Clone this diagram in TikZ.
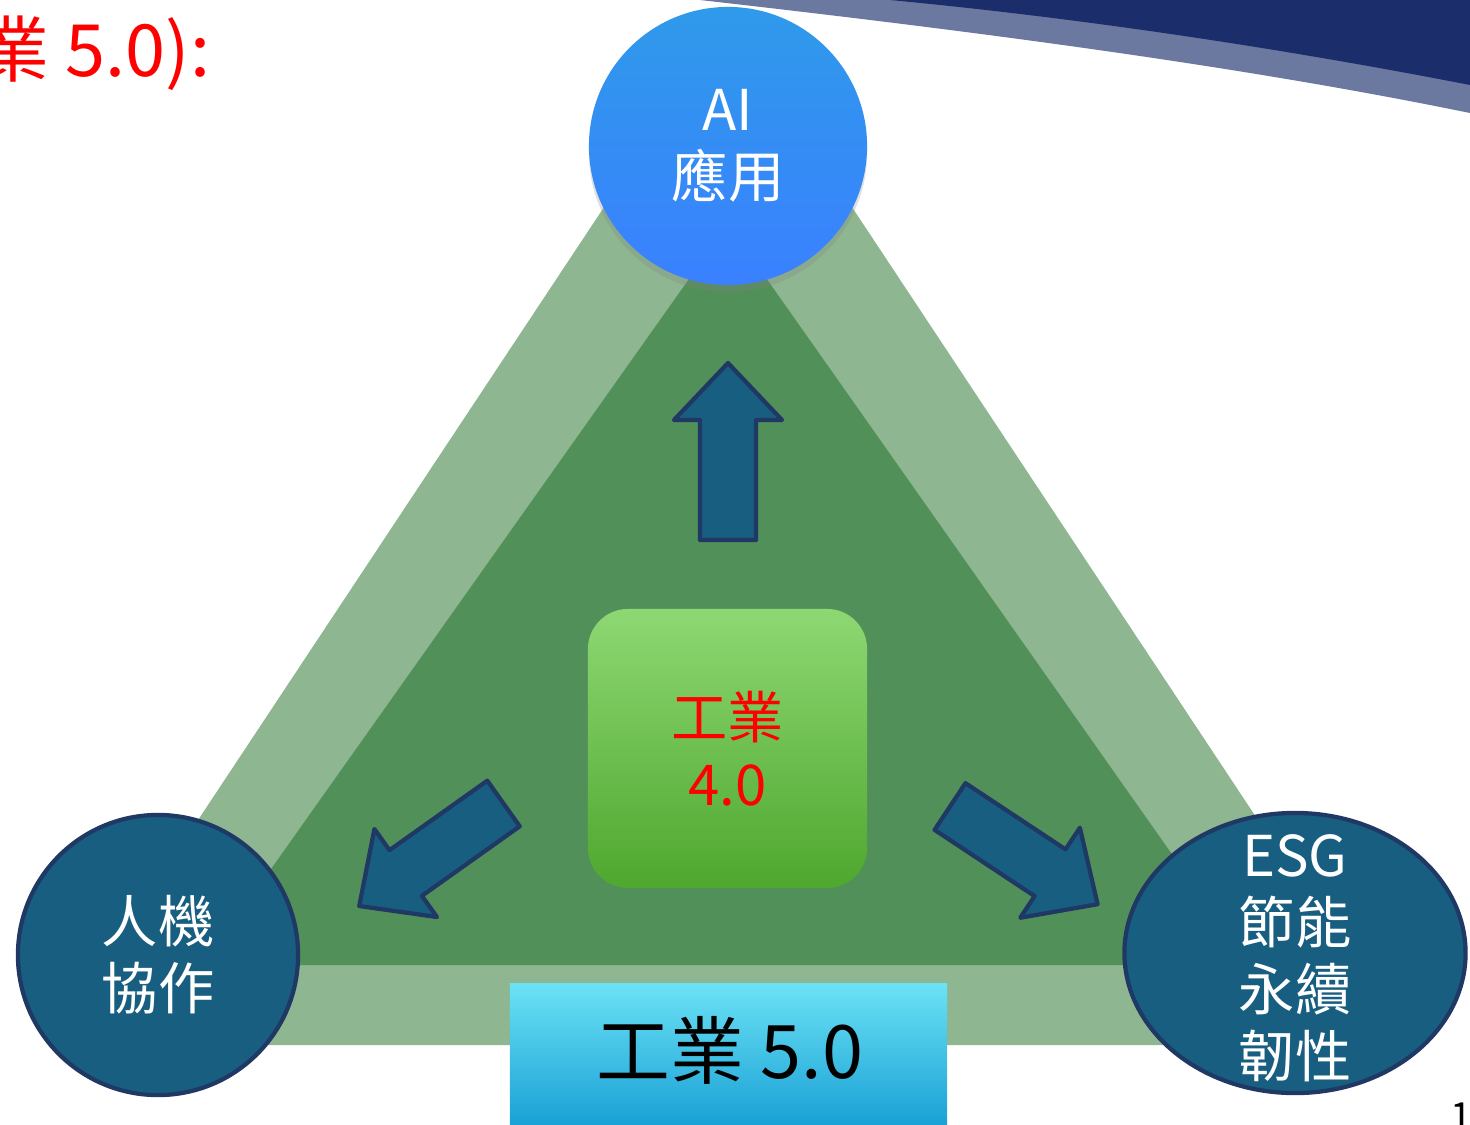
\documentclass[tikz,border=0pt]{standalone}
\usepackage{fontspec}
\usetikzlibrary{shapes.geometric,shadows}
\newfontfamily\cjk{Noto Sans CJK TC}
\definecolor{bandgreen}{HTML}{8EB691}
\definecolor{fieldgreen}{HTML}{52905A}
\definecolor{tealblue}{HTML}{175E80}
\definecolor{navyline}{HTML}{1F3864}
\definecolor{aitop}{HTML}{2F9AEA}
\definecolor{aibot}{HTML}{3A80FF}
\definecolor{hubtop}{HTML}{8ED873}
\definecolor{hubbot}{HTML}{4EA72E}
\definecolor{fivetop}{HTML}{6BE2F5}
\definecolor{fivebot}{HTML}{169ED4}
\definecolor{bannernavy}{HTML}{1B2D6B}
\definecolor{bannerlight}{HTML}{6B78A0}

\tikzset{
  bigarrow/.pic = {
    \filldraw[fill=tealblue, draw=navyline, line width=1.2pt, line join=round]
      (0,-28) -- (120,-28) -- (120,-54) -- (177,0) -- (120,54) -- (120,28) -- (0,28) -- cycle;
  }
}

\begin{document}
\begin{tikzpicture}[x=0.01cm, y=-0.01cm, thick,
    label/.style = {text=white, align=center, font=\cjk\fontsize{16}{19}\selectfont},
    corner/.style = {label, fill=tealblue, draw=navyline, line width=1.2pt, inner sep=0pt},
    aicircle/.style = {label, circle, minimum size=2.78cm, inner sep=0pt, top color=aitop, bottom color=aibot,
                       drop shadow={shadow xshift=0pt, shadow yshift=-2pt, opacity=.25}},
    hub/.style = {rectangle, rounded corners=0.4cm, minimum size=2.79cm, top color=hubtop, bottom color=hubbot,
                  text=red, align=center, font=\cjk\fontsize{16}{19}\selectfont},
    fivebox/.style = {rectangle, minimum width=4.37cm, minimum height=1.46cm, top color=fivetop, bottom color=fivebot,
                      drop shadow={shadow xshift=0pt, shadow yshift=-2pt, opacity=.2}}]
    \useasboundingbox (0,0) rectangle (1470,1124);
    \fill[bannerlight] (700,0) .. controls (1000,34) and (1250,68) .. (1470,113) -- (1470,0) -- cycle;
    \fill[bannernavy] (890,0) .. controls (1080,18) and (1280,48) .. (1470,85) -- (1470,0) -- cycle;
    \node[anchor=base west, inner sep=0pt, text=red, font=\cjk\fontsize{20.5}{24}\selectfont] (head) at (-24,77) {業 5.0):};
    \fill[bandgreen] (49,1045) -- (728,20) -- (1407,1045) -- cycle;
    \fill[fieldgreen] (203,965) -- (728,224) -- (1250,965) -- cycle;
    \node[aicircle] (ai) at (728,146) {AI\\應用};
    \node[corner, circle, minimum size=2.80cm] (cobot) at (158,955) {人機\\協作};
    \node[corner, ellipse, minimum width=3.41cm, minimum height=2.80cm] (esg) at (1295,953) {};
    \node[label] (esgtext) at (1295,958) {ESG\\節能\\永續\\韌性};
    \node[hub] (ind4) at (727.5,748.5) {工業\\4.0};
    \node[fivebox] (ind5) at (728.5,1057) {};
    \node[font=\cjk\fontsize{21}{25}\selectfont] (ind5text) at (730,1050) {工業 5.0};
    \pic[rotate=90] at (728,540) {bigarrow};
    \pic[rotate=215.4] at (503.5,803.5) {bigarrow};
    \pic[rotate=-33.5] at (950,806.5) {bigarrow};
    \node[anchor=north west, inner sep=0pt, font=\cjk\fontsize{11}{13}\selectfont] (page) at (1449,1101) {1};
\end{tikzpicture}
\end{document}
